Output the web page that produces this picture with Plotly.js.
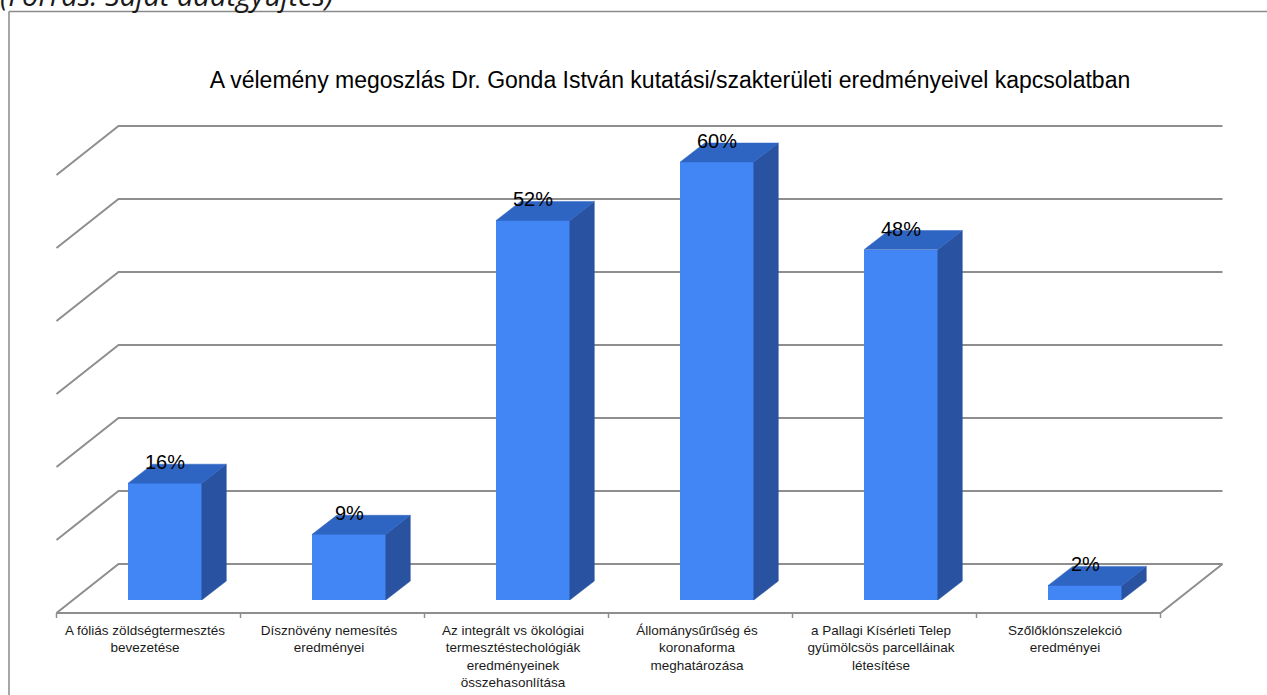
<!DOCTYPE html>
<html>
<head>
<meta charset="utf-8">
<script src="https://cdn.plot.ly/plotly-3.0.1.min.js"></script>
<style>
  html, body { margin: 0; padding: 0; background: #ffffff; }
  #chart { width: 1267px; height: 695px; }
</style>
</head>
<body>
<div id="chart"></div>
<script>
// ---------- data ----------
const categories = [
  "A fóliás zöldségtermesztés<br>bevezetése",
  "Dísznövény nemesítés<br>eredményei",
  "Az integrált vs ökológiai<br>termesztéstechológiák<br>eredményeinek<br>összehasonlítása",
  "Állománysűrűség és<br>koronaforma<br>meghatározása",
  "a Pallagi Kísérleti Telep<br>gyümölcsös parcelláinak<br>létesítése",
  "Szőlőklónszelekció<br>eredményei"
];
const values = [16, 9, 52, 60, 48, 2];
const valueLabels = ["16%", "9%", "52%", "60%", "48%", "2%"];
const gridLevels = [0, 10, 20, 30, 40, 50, 60];
const chartTitle = "A vélemény megoszlás Dr. Gonda István kutatási/szakterületi eredményeivel kapcsolatban";
const sourceText = "(Forrás: Saját adatgyűjtés)";

// ---------- geometry (oblique 3D projection) ----------
const W = 1267, H = 695;
const M = { l: 50, r: 37, t: 120, b: 75 };
const PX_X = 184;      // px per category unit
const PX_Y = 7.3;      // px per percent
const X0_PX = 165;     // px of category 0 (bar front plane)
const Y0_PX = 600;     // px of 0% (bar front plane)
const plotW = W - M.l - M.r, plotH = H - M.t - M.b;
const xRange = [(M.l - X0_PX) / PX_X, (W - M.r - X0_PX) / PX_X];
const yRange = [(Y0_PX - (H - M.b)) / PX_Y, (Y0_PX - M.t) / PX_Y];

const FRONT = { dx: -16.5 / PX_X, dy: -13 / PX_Y };  // floor front edge plane
const BACK  = { dx: 24.5 / PX_X,  dy: 19 / PX_Y };   // bar back plane
const WALL  = { dx: 45.5 / PX_X,  dy: 36 / PX_Y };   // back wall plane
const LABEL_DX = -20 / PX_X;                         // category label centre offset
const HALF = 0.2;
const n = categories.length;
const uL = -0.5, uR = n - 0.5;

const frontColor = "#4285f4";
const topColor = "#2f65c2";
const sideColor = "#2953a0";
const gridColor = "#8e8e8e";

// ---------- shapes: wall / floor grid ----------
const shapes = [];
const P = (x, y) => x.toFixed(4) + "," + y.toFixed(4);
gridLevels.forEach(g => {
  shapes.push({
    type: "path", layer: "below", xref: "x", yref: "y",
    path: "M" + P(uL + FRONT.dx, g + FRONT.dy) +
          " L" + P(uL + WALL.dx, g + WALL.dy) +
          " L" + P(uR + WALL.dx, g + WALL.dy),
    line: { color: gridColor, width: 2 }
  });
});
// floor front edge and right side
const g0 = gridLevels[0];
shapes.push({
  type: "path", layer: "below", xref: "x", yref: "y",
  path: "M" + P(uL + FRONT.dx, g0 + FRONT.dy) +
        " L" + P(uR + FRONT.dx, g0 + FRONT.dy) +
        " L" + P(uR + WALL.dx, g0 + WALL.dy),
  line: { color: gridColor, width: 2 }
});
// category boundary tick marks
for (let k = 0; k <= n; k++) {
  shapes.push({
    type: "line", layer: "below", xref: "x", yref: "y",
    x0: uL + k + FRONT.dx, x1: uL + k + FRONT.dx,
    y0: g0 + FRONT.dy, y1: g0 + FRONT.dy - 5 / PX_Y,
    line: { color: gridColor, width: 1.5 }
  });
}
// outer frame (top and left edges)
const paperX = px => (px - M.l) / plotW;
const paperY = py => (H - M.b - py) / plotH;
shapes.push({ type: "line", xref: "paper", yref: "paper",
  x0: paperX(9), x1: paperX(W + 5), y0: paperY(11.5), y1: paperY(11.5),
  line: { color: "#8a8a8a", width: 1.5 } });
shapes.push({ type: "line", xref: "paper", yref: "paper",
  x0: paperX(9), x1: paperX(9), y0: paperY(11.5), y1: paperY(H + 5),
  line: { color: "#8a8a8a", width: 1.5 } });

// ---------- traces ----------
const xs = categories.map((_, i) => i);

const frontTrace = {
  type: "bar", x: xs, y: values, base: 0, width: 2 * HALF,
  marker: { color: frontColor, line: { width: 0 } },
  hoverinfo: "skip", showlegend: false
};

const topX = [], topY = [], sideX = [], sideY = [];
values.forEach((v, i) => {
  const l = i - HALF, r = i + HALF;
  topX.push(l, r, r + BACK.dx, l + BACK.dx, l, null);
  topY.push(v, v, v + BACK.dy, v + BACK.dy, v, null);
  sideX.push(r, r + BACK.dx, r + BACK.dx, r, r, null);
  sideY.push(0, BACK.dy, v + BACK.dy, v, 0, null);
});
const topTrace = {
  type: "scatter", mode: "lines", x: topX, y: topY, fill: "toself",
  fillcolor: topColor, line: { color: topColor, width: 0.5 },
  hoverinfo: "skip", showlegend: false
};
const sideTrace = {
  type: "scatter", mode: "lines", x: sideX, y: sideY, fill: "toself",
  fillcolor: sideColor, line: { color: sideColor, width: 0.5 },
  hoverinfo: "skip", showlegend: false
};

// ---------- annotations ----------
const fontFam = "Liberation Sans, Arial, sans-serif";
const annotations = values.map((v, i) => ({
  x: i, y: v, xref: "x", yref: "y", text: valueLabels[i],
  showarrow: false, xanchor: "center", yanchor: "bottom", yshift: 8,
  font: { family: fontFam, size: 20, color: "#000000" }
}));
annotations.push({
  xref: "paper", yref: "paper", x: paperX(-2), y: paperY(16),
  xanchor: "left", yanchor: "bottom", showarrow: false, text: "<i>" + sourceText + "</i>",
  font: { family: "Open Sans, Noto Sans, sans-serif", size: 29, color: "#1a1a1a" }
});

const layout = {
  width: W, height: H, margin: M,
  paper_bgcolor: "#ffffff", plot_bgcolor: "#ffffff",
  showlegend: false,
  title: {
    text: chartTitle, x: 670 / W, xanchor: "center", xref: "container",
    y: 1 - 80 / H, yanchor: "middle", yref: "container",
    font: { family: fontFam, size: 23, color: "#000000" }
  },
  xaxis: {
    range: xRange, showgrid: false, zeroline: false, showline: false,
    tickmode: "array", tickvals: xs.map(i => i + LABEL_DX), ticktext: categories,
    ticks: "", tickangle: 0, fixedrange: true,
    tickfont: { family: fontFam, size: 13.5, color: "#1a1a1a" }
  },
  yaxis: {
    range: yRange, showgrid: false, zeroline: false, showline: false,
    showticklabels: false, ticks: "", fixedrange: true
  },
  shapes: shapes,
  annotations: annotations,
  bargap: 0
};

Plotly.newPlot("chart", [frontTrace, sideTrace, topTrace], layout, { displayModeBar: false, staticPlot: true });
</script>
</body>
</html>
